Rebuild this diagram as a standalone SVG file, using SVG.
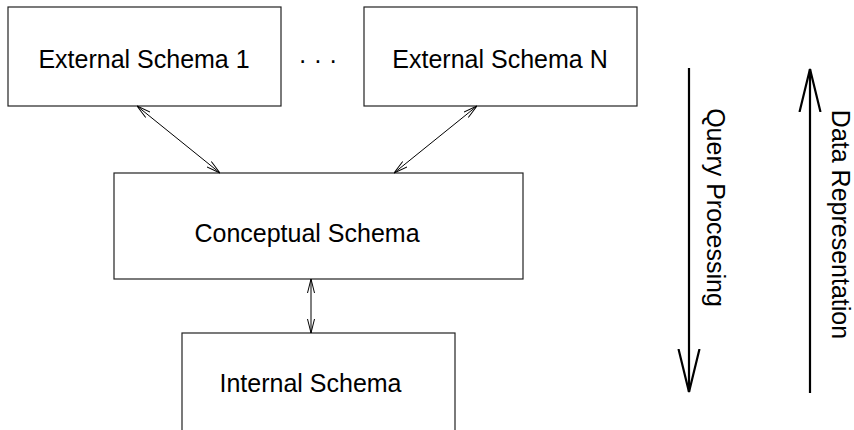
<svg xmlns="http://www.w3.org/2000/svg" width="854" height="430" viewBox="0 0 854 430">
<style>
.box{fill:#fff;stroke:#222;stroke-width:1.2}
.lbl{font-family:"Liberation Sans",Arial,sans-serif;font-size:25px;fill:#000}
.c{text-anchor:middle}
.thin{stroke:#000;stroke-width:1;fill:none}
.thick{stroke:#000;stroke-width:2.2;fill:none}
</style>
<defs>
<marker id="ah" viewBox="0 0 14 8" refX="14" refY="4" markerWidth="14" markerHeight="8" markerUnits="userSpaceOnUse" orient="auto-start-reverse">
<path d="M0,0.5 L14,4 L0,7.5" fill="none" stroke="#000" stroke-width="1"/>
</marker>
<marker id="big" viewBox="0 0 44 24" refX="43" refY="12" markerWidth="44" markerHeight="24" markerUnits="userSpaceOnUse" orient="auto">
<path d="M0,1.5 L43,12 L0,22.5" fill="none" stroke="#000" stroke-width="2.2"/>
</marker>
</defs>
<g id="ext1">
<rect class="box" x="8" y="7" width="273" height="99"/>
<text class="lbl c" x="144" y="68">External Schema 1</text>
</g>
<g id="dots">
<text class="lbl c" x="318" y="69">· · ·</text>
</g>
<g id="extN">
<rect class="box" x="364" y="7" width="273" height="99"/>
<text class="lbl c" x="500" y="68">External Schema N</text>
</g>
<g id="conceptual">
<rect class="box" x="114" y="173" width="409" height="106"/>
<text class="lbl c" x="307" y="242">Conceptual Schema</text>
</g>
<g id="internal">
<rect class="box" x="182" y="333" width="273" height="120"/>
<text class="lbl c" x="310.5" y="392">Internal Schema</text>
</g>
<g id="connectors">
<line class="thin" x1="137" y1="106" x2="220" y2="173" marker-start="url(#ah)" marker-end="url(#ah)"/>
<line class="thin" x1="477" y1="106" x2="394" y2="173" marker-start="url(#ah)" marker-end="url(#ah)"/>
<line class="thin" x1="311" y1="279" x2="311" y2="333" marker-start="url(#ah)" marker-end="url(#ah)"/>
</g>
<g id="query">
<line class="thick" x1="689" y1="68" x2="689" y2="392" marker-end="url(#big)"/>
<text class="lbl c" transform="translate(707,207.5) rotate(90)">Query Processing</text>
</g>
<g id="data">
<line class="thick" x1="810" y1="393" x2="810" y2="69" marker-end="url(#big)"/>
<text class="lbl c" transform="translate(832,224.5) rotate(90)">Data Representation</text>
</g>
</svg>
